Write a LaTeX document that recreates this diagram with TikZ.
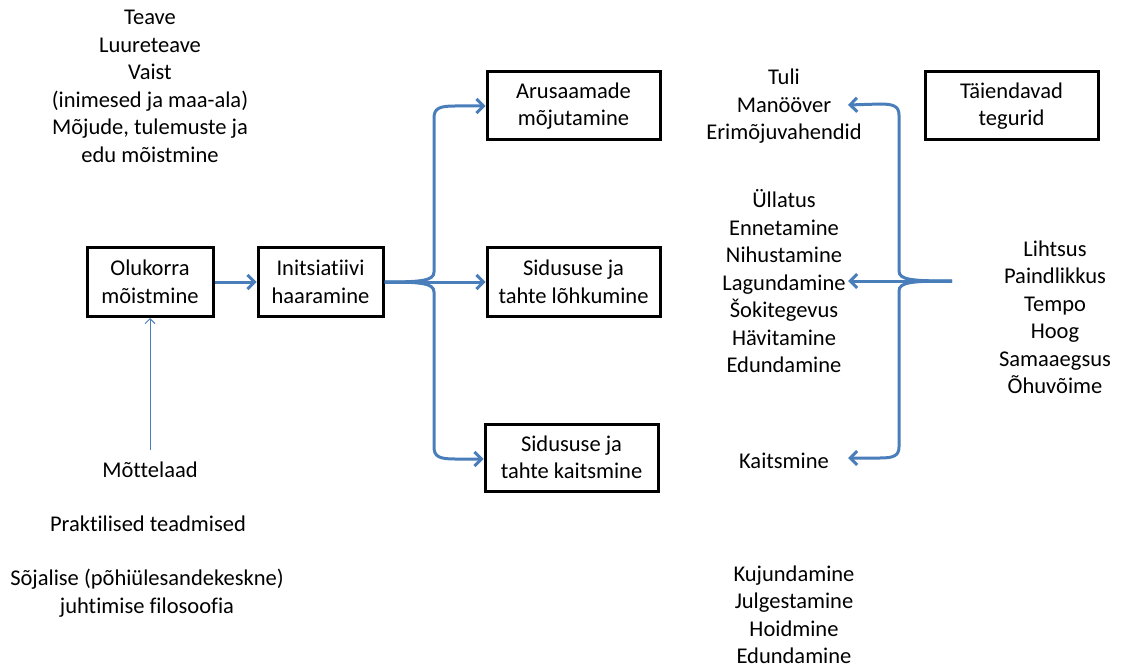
\documentclass[tikz,border=0pt]{standalone}
\usepackage{fontspec}
\setmainfont{Carlito}[Ligatures={NoCommon}]
\usetikzlibrary{arrows.meta}
\definecolor{arrblue}{RGB}{74,126,187}
\begin{document}
\begin{tikzpicture}[x=1pt,y=-1pt,
  box/.style={draw=black,line width=3pt,align=center,inner sep=0pt},
  txt/.style={align=center,inner sep=0pt},
  barr/.style={draw=arrblue,line width=3pt,-{Straight Barb[length=7pt,width=14pt,line width=3pt]}}]
\useasboundingbox (0,0) rectangle (1130,671);
\tikzset{every node/.append style={font=\fontsize{22.5}{27.5}\selectfont}}
% boxes
\node[box,minimum width=126pt,minimum height=69pt] (olu) at (150,282) {Olukorra\\mõistmine};
\node[box,minimum width=125pt,minimum height=69pt] (ini) at (320.5,282) {Initsiatiivi\\haaramine};
\node[box,minimum width=173pt,minimum height=68pt] (aru) at (573.5,106) {Arusaamade\\mõjutamine};
\node[box,minimum width=173pt,minimum height=68pt] (lo) at (573.5,282) {Sidususe ja\\tahte lõhkumine};
\node[box,minimum width=173pt,minimum height=67pt] (kai) at (571.5,457.5) {Sidususe ja\\tahte kaitsmine};
\node[box,minimum width=173pt,minimum height=68pt] (tai) at (1011.5,106) {Täiendavad\\tegurid};
% texts
\node[txt] (t1) at (150,86.5) {Teave\\Luureteave\\Vaist\\(inimesed ja maa-ala)\\Mõjude, tulemuste ja\\edu mõistmine};
\node[txt] (mot) at (150,470) {Mõttelaad};
\node[txt] (pra) at (148,524) {Praktilised teadmised};
\node[txt] (soj) at (147,593) {Sõjalise (põhiülesandekeskne)\\juhtimise filosoofia};
\node[txt] (tul) at (784,106.5) {Tuli\\Manööver\\Erimõjuvahendid};
\node[txt] (ull) at (784,281.5) {Üllatus\\Ennetamine\\Nihustamine\\Lagundamine\\Šokitegevus\\Hävitamine\\Edundamine};
\node[txt] (kts) at (784,461) {Kaitsmine};
\node[txt] (kuj) at (794,615) {Kujundamine\\Julgestamine\\Hoidmine\\Edundamine};
\node[txt] (lih) at (1055,317.5) {Lihtsus\\Paindlikkus\\Tempo\\Hoog\\Samaaegsus\\Õhuvõime};
% coordinates
\coordinate (rj) at (952,281);
\coordinate (ta) at (848,105);
\coordinate (tm) at (848,281);
\coordinate (tb) at (848,458);
\coordinate (mstart) at (150,450);
% arrows
\draw[barr] (olu.east) -- (ini.west);
\draw[draw=arrblue,line width=1pt,-{Straight Barb[length=5pt,width=10pt,line width=1pt]}] (mstart) -- (olu.south);
% left branch
\draw[barr] (ini.east) -- (lo.west);
\draw[barr] (ini.east) .. controls (420,282) and (434,281) .. (434,272) -- (434,118) .. controls (434,108) and (440,106) .. (455,106) -- (aru.west);
\draw[barr] (ini.east) .. controls (420,282) and (434,283) .. (434,292) -- (434,447) .. controls (434,457) and (440,459) .. (455,459) -- (kai.west |- 0,459);
% right branch
\draw[barr] (rj) -- (tm);
\draw[barr] (rj) .. controls (912,281) and (899,280) .. (899,271) -- (899,115) .. controls (899,106) and (893,104) .. (880,104) -- (ta);
\draw[barr] (rj) .. controls (912,281) and (899,282) .. (899,291) -- (899,447) .. controls (899,456) and (893,458) .. (880,458) -- (tb);
\end{tikzpicture}
\end{document}
